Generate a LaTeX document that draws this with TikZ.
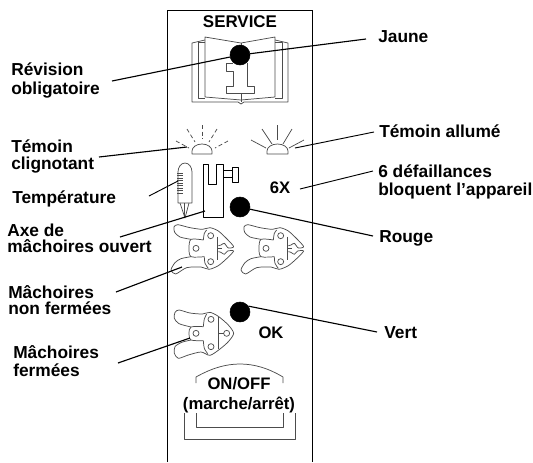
\documentclass[tikz,border=0pt]{standalone}
\usepackage{fontspec}
\setmainfont{Liberation Sans}
\usetikzlibrary{positioning,calc}

\tikzset{
  legend/.style={font=\fontsize{13}{13.5}\selectfont\bfseries,align=left,anchor=base west,inner sep=0pt},
  panelitem/.style={font=\fontsize{12.5}{15}\selectfont\bfseries,align=center,inner sep=0pt},
  lamp/.style={circle,fill=black,draw=black,inner sep=0pt,minimum size=15pt},
  leader/.style={draw=black,line width=0.85pt},
  icon/.style={draw=black!70,line width=0.55pt,line join=round},
  jawopen/.pic={
    \begin{scope}[scale=0.3333]
      % handles
      \draw[icon] plot[smooth,tension=0.45] coordinates {(78,73) (45,66) (29,52) (27,36) (38,29) (75,38) (112,43) (135,38) (160,48) (188,74) (206,95) (190,99) (178,85) (168,90) (160,92)};
      \draw[icon] plot[smooth,tension=0.45] coordinates {(160,110) (168,112) (178,118) (188,108) (206,108) (188,128) (160,152) (132,163) (108,156) (65,158) (32,177) (18,165) (30,143) (48,131) (78,125)};
      % pivot block
      \draw[icon] plot[smooth,tension=0.5] coordinates {(115,75) (78,73) (72,100) (78,125) (118,125)};
      \draw[icon] plot[smooth,tension=0.5] coordinates {(115,75) (118,55) (125,45)};
      \draw[icon] plot[smooth,tension=0.5] coordinates {(118,125) (120,145) (130,160)};
      \draw[icon] (158,65) -- (158,135);
      \draw[icon] (158,100) -- (172,100);
      \foreach \cx/\cy in {137/62, 93/100, 137/140} {
        \draw[icon] (\cx,\cy) circle (9);
      }
    \end{scope}
  },
  jawclosed/.pic={
    \begin{scope}[scale=0.3333]
      % handles
      \draw[icon] plot[smooth,tension=0.45] coordinates {(78,66) (42,56) (28,40) (30,22) (42,15) (75,24) (112,27) (135,22) (160,34) (190,60) (206,85) (190,110) (165,132) (135,151) (108,141) (70,150) (40,160) (28,145) (30,125) (50,112) (78,105)};
      % pivot block
      \draw[icon] plot[smooth,tension=0.5] coordinates {(115,65) (78,66) (72,85) (78,105) (115,107)};
      \draw[icon] plot[smooth,tension=0.5] coordinates {(115,65) (118,42) (125,27)};
      \draw[icon] plot[smooth,tension=0.5] coordinates {(115,107) (118,130) (128,146)};
      \draw[icon] (160,35) -- (160,132);
      \draw[icon] (160,85) -- (176,85);
      \foreach \cx/\cy in {138/43, 93/85, 138/125, 185/85} {
        \draw[icon] (\cx,\cy) circle (9);
      }
    \end{scope}
  }
}

\begin{document}
\begin{tikzpicture}[x=0.75pt,y=-0.75pt]
  \useasboundingbox (0,0) rectangle (533,462);

  % panel
  \draw[line width=0.7pt] (167,462) -- (167,10) -- (312,10) -- (312,462);
  \node[panelitem,font=\fontsize{12.7}{15}\selectfont\bfseries] (service) at (240,22) {SERVICE};

  % book
  \draw[icon] (205,40) -- (192,43) -- (192,102) -- (238,102) -- (241,104) -- (244,102) -- (288,102) -- (288,43) -- (275,40);
  \draw[icon] (205,42) -- (198,42) -- (198,98) -- (205,98);
  \draw[icon] (275,42) -- (282,42) -- (282,98) -- (275,98);
  \draw[icon] (241,43) -- (205,37) -- (205,97) -- (241,100) -- (275,97) -- (275,37) -- cycle;
  \draw[icon] (241,43) -- (241,50) (241,93) -- (241,102);
  \draw[icon] (233,63) -- (226,63) -- (226,71) -- (233,71) -- (233,86) -- (226,86) -- (226,93) -- (254,93) -- (254,86) -- (247,86) -- (247,63);

  % blinking lamp
  \draw[icon] (192,154) -- (192,151) arc (180:360:10 and 7) -- (212,154) -- cycle;
  \foreach \ax/\ay/\bx/\by in {202/125/202/139, 187/129/195/142, 217/129/209/142, 176/141/189/148, 228/141/215/148} {
    \draw[icon,dash pattern=on 3pt off 2pt] (\ax,\ay) -- (\bx,\by);
  }
  % lit lamp
  \draw[icon] (267,154) -- (267,151) arc (180:360:10.5 and 7) -- (288,154) -- cycle;
  \foreach \ax/\ay/\bx/\by in {277/125/277/140, 262/129/272/144, 292/129/283/144, 251/140/266/148, 304/140/289/148} {
    \draw[icon] (\ax,\ay) -- (\bx,\by);
  }

  % thermometer
  \draw[icon] (178,203) -- (178,172) arc (180:360:7 and 9) -- (192,203) -- cycle;
  \draw[icon] (180,203) -- (185,218) -- (189,203);
  \draw[icon] (184,203) -- (184,217);
  \foreach \y in {173,175.5,...,193} {
    \draw[icon,line width=0.6pt] (177,\y) -- (183,\y);
  }

  % jaw axis
  \draw[icon,draw=black] (203,217) -- (203,164) -- (208,164) -- (208,184) -- (216,184) -- (216,164) -- (223,164) -- (223,217) -- cycle;
  \draw[icon,draw=black] (223,170) -- (232,170) (223,177) -- (232,177);
  \draw[icon,draw=black] (232,167) rectangle (238,182);

  % jaws
  \pic (jawa) at (165,215) {jawopen};
  \pic (jawb) at (235,215) {jawopen};
  \pic (jawc) at (165,305) {jawclosed};

  % lamps
  \node[lamp] (yellow) at (240,55) {};
  \node[lamp] (red) at (240,207) {};
  \node[lamp] (green) at (240,312) {};

  % panel texts
  \node[panelitem] (sixx) at (280,188) {6X};
  \node[panelitem] (okay) at (271,333) {OK};
  \node[panelitem] (onoff) at (239,395) {ON/OFF\\(marche/arrêt)};

  % switch frame
  \draw[icon] (196,383) -- (196,377) .. controls (212,368) and (226,364) .. (240,364) .. controls (254,364) and (268,368) .. (283,377) -- (283,383);
  \draw[icon] (196,413) -- (196,427) -- (283,427) -- (283,413);
  \draw[icon] (184,413) -- (184,439) -- (295,439) -- (295,413);

  % legends
  \node[legend] (revision) at (11,94) {Révision\\[0.75pt]obligatoire};
  \node[legend] (clignotant) at (11,169) {Témoin\\[-0.75pt]clignotant};
  \node[legend] (temperature) at (12,203) {Température};
  \node[legend] (axe) at (7,252) {Axe de\\[-1.5pt]mâchoires ouvert};
  \node[legend] (nonfermees) at (8,314) {Mâchoires\\[-1.5pt]non fermées};
  \node[legend] (fermees) at (13,376) {Mâchoires\\fermées};
  \node[legend] (jaune) at (378,42) {Jaune};
  \node[legend] (allume) at (379,137) {Témoin allumé};
  \node[legend] (defaillances) at (378,195) {6 défaillances\\bloquent l’appareil};
  \node[legend] (rouge) at (379,242) {Rouge};
  \node[legend] (vert) at (384,338) {Vert};

  % free ends of the leaders
  \coordinate (pointbook) at (112,81);
  \coordinate (pointjaune) at (366,39);
  \coordinate (pointblink) at (99,157);
  \coordinate (blinkend) at (187,147);
  \coordinate (pointallume) at (374,132);
  \coordinate (litend) at (295,148);
  \coordinate (pointtemp) at (149,196);
  \coordinate (tempend) at (178,181);
  \coordinate (pointsix) at (373,171);
  \coordinate (sixend) at (300,189);
  \coordinate (pointaxe) at (120,237);
  \coordinate (axeend) at (205,211);
  \coordinate (pointrouge) at (373,236);
  \coordinate (pointopen) at (116,292);
  \coordinate (openend) at (182,267);
  \coordinate (pointvert) at (377,332);
  \coordinate (pointclosed) at (118,363);
  \coordinate (closedend) at (190,338);

  % leaders
  \draw[leader] (pointbook) -- (yellow);
  \draw[leader] (pointjaune) -- (yellow);
  \draw[leader] (pointblink) -- (blinkend);
  \draw[leader,line width=0.7pt] (pointallume) -- (litend);
  \draw[leader,line width=0.7pt] (pointtemp) -- (tempend);
  \draw[leader,line width=0.7pt] (pointsix) -- (sixend);
  \draw[leader] (pointaxe) -- (axeend);
  \draw[leader] (pointrouge) -- (red);
  \draw[leader] (pointopen) -- (openend);
  \draw[leader] (pointvert) -- (green.35);
  \draw[leader] (pointclosed) -- (closedend);
\end{tikzpicture}
\end{document}
